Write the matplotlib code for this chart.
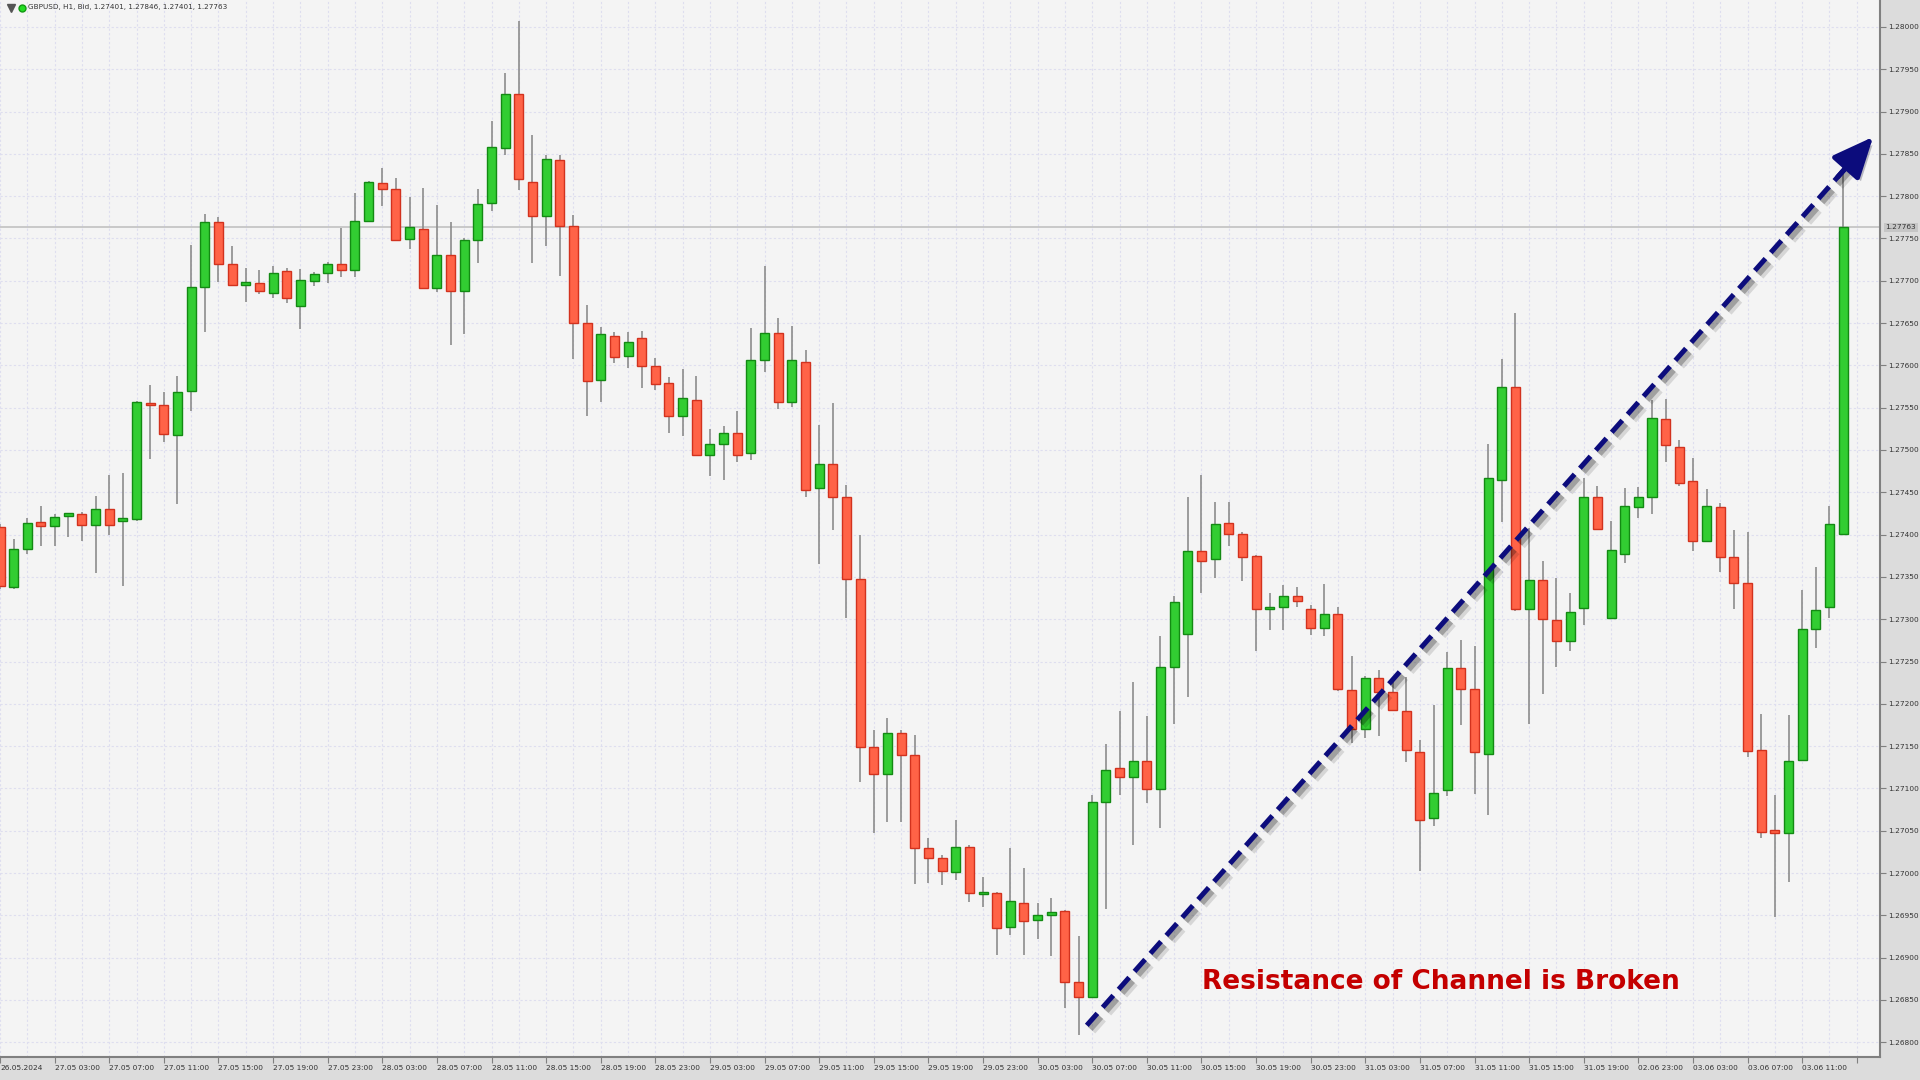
import matplotlib
matplotlib.use("Agg")
import matplotlib.pyplot as plt
import matplotlib.patheffects as pe
import matplotlib.transforms as mtransforms
from matplotlib.lines import Line2D
import numpy as np

# GBPUSD H1 candles, bar 0 = 26.05 23:00
opens = [1.27409, 1.27338, 1.27383, 1.27415, 1.27410, 1.27422, 1.27424, 1.27411, 1.27430, 1.27416,
         1.27418, 1.27555, 1.27553, 1.27518, 1.27570, 1.27693, 1.27769, 1.27720, 1.27695, 1.27697,
         1.27686, 1.27711, 1.27670, 1.27700, 1.27709, 1.27720, 1.27713, 1.27771, 1.27816, 1.27809,
         1.27749, 1.27761, 1.27691, 1.27730, 1.27688, 1.27748, 1.27792, 1.27857, 1.27921, 1.27817,
         1.27776, 1.27843, 1.27765, 1.27650, 1.27583, 1.27635, 1.27611, 1.27632, 1.27599, 1.27579,
         1.27540, 1.27559, 1.27494, 1.27507, 1.27520, 1.27496, 1.27606, 1.27638, 1.27557, 1.27604,
         1.27455, 1.27484, 1.27444, 1.27347, 1.27149, 1.27117, 1.27166, 1.27140, 1.27030, 1.27018,
         1.27001, 1.27031, 1.26975, 1.26977, 1.26936, 1.26965, 1.26945, 1.26951, 1.26955, 1.26871,
         1.26853, 1.27084, 1.27124, 1.27114, 1.27133, 1.27099, 1.27244, 1.27283, 1.27381, 1.27371,
         1.27414, 1.27401, 1.27375, 1.27312, 1.27315, 1.27327, 1.27312, 1.27290, 1.27306, 1.27216,
         1.27170, 1.27231, 1.27214, 1.27192, 1.27143, 1.27065, 1.27098, 1.27242, 1.27218, 1.27141,
         1.27465, 1.27575, 1.27312, 1.27346, 1.27299, 1.27274, 1.27313, 1.27444, 1.27302, 1.27377,
         1.27433, 1.27444, 1.27537, 1.27504, 1.27463, 1.27393, 1.27433, 1.27374, 1.27343, 1.27145,
         1.27051, 1.27047, 1.27134, 1.27288, 1.27315, 1.27401]
highs = [1.27412, 1.27395, 1.27420, 1.27434, 1.27424, 1.27426, 1.27427, 1.27446, 1.27470, 1.27473,
         1.27558, 1.27577, 1.27569, 1.27587, 1.27742, 1.27779, 1.27775, 1.27741, 1.27715, 1.27713,
         1.27717, 1.27715, 1.27714, 1.27710, 1.27722, 1.27762, 1.27804, 1.27818, 1.27833, 1.27821,
         1.27799, 1.27810, 1.27790, 1.27769, 1.27750, 1.27809, 1.27889, 1.27946, 1.28007, 1.27872,
         1.27849, 1.27849, 1.27778, 1.27671, 1.27645, 1.27639, 1.27640, 1.27641, 1.27609, 1.27586,
         1.27596, 1.27587, 1.27525, 1.27528, 1.27546, 1.27644, 1.27718, 1.27656, 1.27647, 1.27618,
         1.27530, 1.27556, 1.27459, 1.27400, 1.27169, 1.27183, 1.27169, 1.27163, 1.27041, 1.27021,
         1.27063, 1.27033, 1.26995, 1.26978, 1.27030, 1.27006, 1.26965, 1.26970, 1.26956, 1.26926,
         1.27092, 1.27152, 1.27191, 1.27226, 1.27186, 1.27280, 1.27328, 1.27444, 1.27470, 1.27438,
         1.27438, 1.27403, 1.27376, 1.27331, 1.27340, 1.27338, 1.27317, 1.27342, 1.27315, 1.27257,
         1.27233, 1.27240, 1.27230, 1.27232, 1.27157, 1.27199, 1.27261, 1.27276, 1.27268, 1.27507,
         1.27608, 1.27662, 1.27408, 1.27369, 1.27349, 1.27331, 1.27467, 1.27458, 1.27416, 1.27455,
         1.27456, 1.27559, 1.27560, 1.27512, 1.27490, 1.27454, 1.27437, 1.27406, 1.27403, 1.27188,
         1.27092, 1.27187, 1.27334, 1.27362, 1.27434, 1.27846]
lows = [1.27336, 1.27336, 1.27377, 1.27387, 1.27386, 1.27397, 1.27392, 1.27355, 1.27400, 1.27339,
        1.27416, 1.27489, 1.27510, 1.27436, 1.27546, 1.27639, 1.27699, 1.27694, 1.27675, 1.27684,
        1.27680, 1.27674, 1.27643, 1.27694, 1.27697, 1.27705, 1.27704, 1.27769, 1.27788, 1.27747,
        1.27738, 1.27690, 1.27687, 1.27624, 1.27637, 1.27721, 1.27783, 1.27849, 1.27807, 1.27721,
        1.27741, 1.27706, 1.27608, 1.27540, 1.27557, 1.27603, 1.27597, 1.27573, 1.27571, 1.27520,
        1.27516, 1.27493, 1.27469, 1.27464, 1.27486, 1.27488, 1.27592, 1.27548, 1.27551, 1.27444,
        1.27365, 1.27405, 1.27302, 1.27108, 1.27047, 1.27060, 1.27060, 1.26987, 1.26988, 1.26986,
        1.26992, 1.26966, 1.26960, 1.26903, 1.26927, 1.26903, 1.26922, 1.26902, 1.26841, 1.26809,
        1.26852, 1.26958, 1.27092, 1.27033, 1.27083, 1.27053, 1.27176, 1.27208, 1.27331, 1.27349,
        1.27386, 1.27345, 1.27262, 1.27287, 1.27287, 1.27314, 1.27281, 1.27280, 1.27215, 1.27154,
        1.27160, 1.27162, 1.27191, 1.27131, 1.27003, 1.27056, 1.27091, 1.27175, 1.27094, 1.27069,
        1.27415, 1.27310, 1.27176, 1.27212, 1.27244, 1.27263, 1.27293, 1.27405, 1.27300, 1.27367,
        1.27420, 1.27424, 1.27486, 1.27458, 1.27381, 1.27391, 1.27356, 1.27312, 1.27137, 1.27041,
        1.26948, 1.26990, 1.27132, 1.27266, 1.27302, 1.27401]
closes = [1.27339, 1.27383, 1.27414, 1.27410, 1.27421, 1.27425, 1.27411, 1.27430, 1.27411, 1.27420,
          1.27557, 1.27553, 1.27519, 1.27568, 1.27693, 1.27769, 1.27720, 1.27695, 1.27698, 1.27688,
          1.27709, 1.27680, 1.27701, 1.27708, 1.27720, 1.27713, 1.27771, 1.27817, 1.27809, 1.27748,
          1.27763, 1.27691, 1.27730, 1.27688, 1.27748, 1.27791, 1.27858, 1.27921, 1.27820, 1.27777,
          1.27844, 1.27765, 1.27650, 1.27582, 1.27637, 1.27610, 1.27628, 1.27599, 1.27578, 1.27540,
          1.27561, 1.27494, 1.27507, 1.27520, 1.27494, 1.27606, 1.27638, 1.27557, 1.27606, 1.27453,
          1.27484, 1.27444, 1.27347, 1.27149, 1.27117, 1.27166, 1.27140, 1.27030, 1.27018, 1.27003,
          1.27031, 1.26976, 1.26977, 1.26935, 1.26967, 1.26943, 1.26950, 1.26953, 1.26871, 1.26853,
          1.27084, 1.27122, 1.27114, 1.27133, 1.27099, 1.27244, 1.27320, 1.27381, 1.27369, 1.27413,
          1.27401, 1.27374, 1.27312, 1.27315, 1.27327, 1.27321, 1.27290, 1.27306, 1.27218, 1.27170,
          1.27231, 1.27214, 1.27193, 1.27145, 1.27063, 1.27095, 1.27242, 1.27218, 1.27143, 1.27467,
          1.27575, 1.27312, 1.27346, 1.27300, 1.27274, 1.27308, 1.27444, 1.27407, 1.27382, 1.27434,
          1.27444, 1.27538, 1.27506, 1.27461, 1.27393, 1.27434, 1.27374, 1.27343, 1.27144, 1.27049,
          1.27047, 1.27133, 1.27288, 1.27311, 1.27413, 1.27763]

x_tick_labels = ["26.05.2024",
                 "27.05 03:00", "27.05 07:00", "27.05 11:00", "27.05 15:00", "27.05 19:00", "27.05 23:00",
                 "28.05 03:00", "28.05 07:00", "28.05 11:00", "28.05 15:00", "28.05 19:00", "28.05 23:00",
                 "29.05 03:00", "29.05 07:00", "29.05 11:00", "29.05 15:00", "29.05 19:00", "29.05 23:00",
                 "30.05 03:00", "30.05 07:00", "30.05 11:00", "30.05 15:00", "30.05 19:00", "30.05 23:00",
                 "31.05 03:00", "31.05 07:00", "31.05 11:00", "31.05 15:00", "31.05 19:00",
                 "02.06 23:00", "03.06 03:00", "03.06 07:00", "03.06 11:00", ""]

title = "GBPUSD, H1, Bid, 1.27401, 1.27846, 1.27401, 1.27763"
annotation = "Resistance of Channel is Broken"
arrow_start = (79.6, 1.26820)
arrow_tip = (137.2, 1.27870)

o = np.array(opens)
h = np.array(highs)
l = np.array(lows)
c = np.array(closes)
x = np.arange(len(o))
up = c >= o

fig = plt.figure(figsize=(19.2, 10.8), dpi=100, facecolor="#dcdcdc")
ax = fig.add_axes([0, 23 / 1080, 1880 / 1920, 1057 / 1080])
ax.set_facecolor("#f4f4f4")

# candles
ax.vlines(x, l, h, color="#8c8c8c", lw=1.2, zorder=2)
body_low = np.minimum(o, c)
body_h = np.maximum(np.abs(c - o), 0.00003)
ax.bar(x[up], body_h[up], bottom=body_low[up], width=0.66,
       color="#32cd32", edgecolor="#138a13", linewidth=1.0, zorder=3)
ax.bar(x[~up], body_h[~up], bottom=body_low[~up], width=0.66,
       color="#ff6347", edgecolor="#d2321e", linewidth=1.0, zorder=3)

# last price line
ax.axhline(c[-1], color="#bdbdbd", lw=1.1, zorder=1.5)

ax.set_xlim(0, 137.7)
ax.set_ylim(1.267826, 1.280318)

# axes styling
for side in ["left", "top"]:
    ax.spines[side].set_visible(False)
for side in ["right", "bottom"]:
    ax.spines[side].set_color("#808080")
    ax.spines[side].set_linewidth(1.5)

ax.yaxis.tick_right()
yt = np.arange(1.268, 1.28001, 0.0005)
ax.set_yticks(yt)
ax.set_yticklabels([f"{v:.5f}" for v in yt])
ax.set_xticks(np.arange(0, 137, 4))
ax.set_xticklabels(x_tick_labels)
ax.set_xticks(np.arange(2, 137, 4), minor=True)
for lab in ax.get_xticklabels():
    lab.set_horizontalalignment("left")

ax.tick_params(axis="both", which="major", direction="out", length=4, width=0.8,
               color="#808080", labelcolor="#333333", labelsize=5.3, pad=2)
ax.tick_params(axis="x", which="minor", length=0)
ax.grid(True, which="both", color="#dedeef", lw=0.8, linestyle=(0, (2, 2)), zorder=0)
ax.set_axisbelow(True)

# price label on the right axis
blend = mtransforms.blended_transform_factory(ax.transAxes, ax.transData)
ax.annotate(f"{c[-1]:.5f}", xy=(1.0, c[-1]), xycoords=blend, xytext=(4, 0),
            textcoords="offset points", ha="left", va="center", fontsize=5.3,
            color="#333333", annotation_clip=False,
            bbox=dict(boxstyle="square,pad=0.25", fc="#c6c6c6", ec="none"))

# top-left header
fig.text(28 / 1920, 1 - 7.5 / 1080, title, fontsize=5.2, va="center", ha="left", color="#333333")
fig.add_artist(Line2D([10.5 / 1920], [1 - 8 / 1080], marker="v", markersize=6, color="#555555",
                      transform=fig.transFigure))
fig.add_artist(Line2D([22 / 1920], [1 - 8 / 1080], marker="o", markersize=5, color="#22dd22",
                      markeredgecolor="#119911", transform=fig.transFigure))

# trend arrow
navy = "#0c0c7c"
sx, sy = arrow_start
ex, ey = arrow_tip
t_base = 0.972
bx, by = sx + (ex - sx) * t_base, sy + (ey - sy) * t_base
t_tail = 0.955
tx, ty = sx + (ex - sx) * t_tail, sy + (ey - sy) * t_tail
shadow = [pe.SimpleLineShadow(offset=(3.5, -3.5), shadow_color="black", alpha=0.12, linewidth=7),
          pe.SimpleLineShadow(offset=(2.5, -2.5), shadow_color="black", alpha=0.25, linewidth=4.5),
          pe.Normal()]
ax.plot([sx, bx], [sy, by], color=navy, lw=3.6, dashes=(3.2, 1.6), solid_capstyle="butt",
        dash_capstyle="butt", zorder=5, path_effects=shadow)
ax.annotate("", xy=(ex, ey), xytext=(tx, ty),
            arrowprops=dict(arrowstyle="-|>,head_length=1.25,head_width=0.55", color=navy,
                            lw=3.6, mutation_scale=20, shrinkA=0, shrinkB=0,
                            path_effects=[pe.SimplePatchShadow(offset=(2.5, -2.5), alpha=0.25),
                                          pe.Normal()]),
            zorder=6, annotation_clip=False)

ax.text(105.5, 1.268712, annotation, color="#c40000", fontsize=19, fontweight="bold",
        ha="center", va="center", zorder=6)

fig.savefig("out.png", dpi=100, facecolor=fig.get_facecolor())
